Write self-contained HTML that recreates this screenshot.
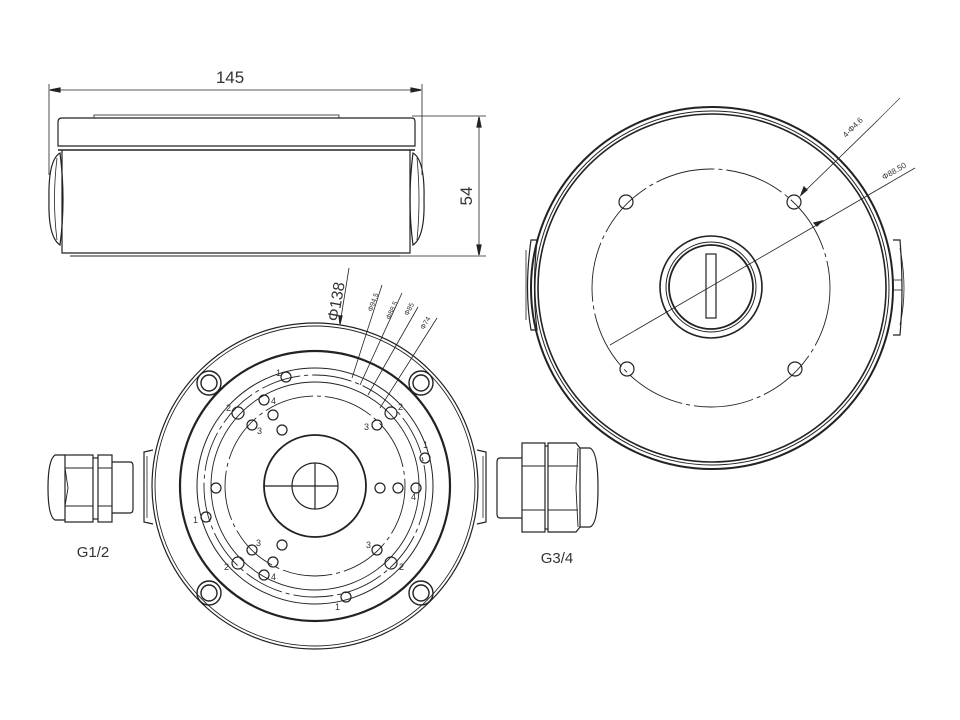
<!DOCTYPE html>
<html><head><meta charset="utf-8"><style>
html,body{margin:0;padding:0;background:#fff;}
svg{display:block;}
text{font-family:"Liberation Sans",sans-serif;fill:#333;}
</style></head><body>
<svg width="960" height="720" viewBox="0 0 960 720" xmlns="http://www.w3.org/2000/svg" fill="none" stroke="#222" stroke-width="1.2">
<!-- TOP SIDE VIEW -->
<line x1="49" y1="84" x2="49" y2="175" stroke-width="0.8"/>
<line x1="422" y1="84" x2="422" y2="175" stroke-width="0.8"/>
<line x1="50" y1="90" x2="421" y2="90" stroke-width="0.8"/>
<path d="M50 90 l10 -2 v4z M421 90 l-10 -2 v4z" fill="#222"/>
<text x="230" y="83" font-size="17" stroke="none" text-anchor="middle">145</text>
<rect x="94" y="115" width="245" height="3" stroke-width="0.8"/>
<path d="M62 118 H412 Q415 118 415 122 V146 H58 V122 Q58 118 62 118Z"/>
<line x1="58" y1="150" x2="415" y2="150" stroke-width="1.4"/>
<path d="M62 150 V253 H410 V150"/>
<line x1="70" y1="256" x2="400" y2="256" stroke-width="1"/>
<path d="M60 153 Q48 160 49 200 Q48 237 60 245 Q66 200 60 153Z"/>
<path d="M57 158 Q52 200 57 240" stroke-width="0.8"/>
<path d="M413 153 Q425 160 424 200 Q425 237 413 245 Q407 200 413 153Z"/>
<path d="M417 158 Q421 200 417 240" stroke-width="0.8"/>
<line x1="412" y1="116" x2="486" y2="116" stroke-width="0.8"/>
<line x1="400" y1="256" x2="486" y2="256" stroke-width="0.8"/>
<line x1="479" y1="117" x2="479" y2="255" stroke-width="0.8"/>
<path d="M479 117 l-2 10 h4z M479 255 l-2 -10 h4z" fill="#222"/>
<text x="0" y="0" font-size="17" stroke="none" transform="translate(472,196) rotate(-90)" text-anchor="middle">54</text>

<!-- RIGHT TOP VIEW -->
<circle cx="712" cy="288" r="181" stroke-width="2"/>
<circle cx="712" cy="288" r="177" stroke-width="1"/>
<circle cx="712" cy="288" r="174" stroke-width="1.6"/>
<circle cx="711" cy="288" r="119" stroke-width="0.9" stroke-dasharray="60 4 4 4"/>
<circle cx="711" cy="287" r="51" stroke-width="1.6"/>
<circle cx="711" cy="287" r="45" stroke-width="1"/>
<circle cx="711" cy="287" r="42" stroke-width="1.8"/>
<rect x="706" y="254" width="10" height="64" stroke-width="1.2"/>
<circle cx="626" cy="202" r="7"/><circle cx="794" cy="202" r="7"/>
<circle cx="627" cy="369" r="7"/><circle cx="795" cy="369" r="7"/>
<line x1="610" y1="345" x2="915" y2="168" stroke-width="0.8"/>
<path d="M822 221 l-8 2 l3 3z" fill="#222"/>
<line x1="803" y1="193" x2="878" y2="120" stroke-width="0.8"/>
<line x1="878" y1="120" x2="900" y2="98" stroke-width="0.6"/>
<path d="M801 195 l3 -8 l3 3z" fill="#222"/>
<text font-size="8" stroke="none" transform="translate(846,138) rotate(-45)">4-Φ4.6</text>
<text font-size="8" stroke="none" transform="translate(884,180) rotate(-30)">Φ88.50</text>
<path d="M531 240 Q524 290 531 330 L537 330 Q532 290 537 240Z"/>
<path d="M526 250 V320" stroke-width="0.8"/>
<path d="M893 240 L900 240 Q904 290 900 335 L893 335" />
<path d="M900 248 Q908 290 900 325" stroke-width="0.8"/>
<line x1="893" y1="280" x2="902" y2="280" stroke-width="0.8"/>
<line x1="893" y1="290" x2="902" y2="290" stroke-width="0.8"/>

<!-- BOTTOM LEFT VIEW -->
<circle cx="315" cy="486" r="163" stroke-width="1.2"/>
<circle cx="315" cy="486" r="160" stroke-width="0.9"/>
<circle cx="315" cy="486" r="135" stroke-width="2.2"/>
<circle cx="315" cy="486" r="118" stroke-width="1"/>
<circle cx="315" cy="486" r="111" stroke-width="0.9" stroke-dasharray="40 4 4 4"/>
<circle cx="315" cy="486" r="104" stroke-width="0.9"/>
<circle cx="315" cy="486" r="90" stroke-width="0.9" stroke-dasharray="50 4 4 4"/>
<circle cx="315" cy="486" r="51" stroke-width="1.8"/>
<circle cx="315" cy="486" r="23" stroke-width="1.2"/>
<line x1="264" y1="486" x2="338" y2="486"/>
<line x1="315" y1="463" x2="315" y2="509"/>
<g stroke-width="1.4">
<circle cx="209" cy="383" r="12"/><circle cx="209" cy="383" r="8"/>
<circle cx="421" cy="383" r="12"/><circle cx="421" cy="383" r="8"/>
<circle cx="209" cy="593" r="12"/><circle cx="209" cy="593" r="8"/>
<circle cx="421" cy="593" r="12"/><circle cx="421" cy="593" r="8"/>
</g>
<g stroke-width="1.2">
<circle cx="286" cy="377" r="5"/><circle cx="264" cy="400" r="5"/><circle cx="238" cy="413" r="6"/><circle cx="273" cy="415" r="5"/>
<circle cx="252" cy="425" r="5"/><circle cx="282" cy="430" r="5"/><circle cx="391" cy="413" r="6"/><circle cx="377" cy="425" r="5"/>
<circle cx="425" cy="458" r="5"/><circle cx="216" cy="488" r="5"/><circle cx="380" cy="488" r="5"/><circle cx="398" cy="488" r="5"/>
<circle cx="416" cy="488" r="5"/><circle cx="206" cy="517" r="5"/><circle cx="252" cy="550" r="5"/><circle cx="282" cy="545" r="5"/>
<circle cx="238" cy="563" r="6"/><circle cx="273" cy="562" r="5"/><circle cx="264" cy="575" r="5"/><circle cx="377" cy="550" r="5"/>
<circle cx="391" cy="563" r="6"/><circle cx="346" cy="597" r="5"/>
</g>
<g font-size="9" stroke="none">
<text x="276" y="376">1</text><text x="271" y="404">4</text><text x="226" y="411">2</text><text x="257" y="434">3</text>
<text x="398" y="410">2</text><text x="364" y="430">3</text><text x="423" y="448">1</text><text x="411" y="500">4</text>
<text x="193" y="523">1</text><text x="256" y="546">3</text><text x="224" y="570">2</text><text x="271" y="580">4</text>
<text x="366" y="548">3</text><text x="399" y="570">2</text><text x="335" y="610">1</text>
</g>
<!-- leaders -->
<g stroke-width="0.8">
<line x1="349" y1="268" x2="340" y2="324"/>
<line x1="382" y1="285" x2="352" y2="378"/>
<line x1="402" y1="293" x2="360" y2="385"/>
<line x1="418" y1="307" x2="368" y2="395"/>
<line x1="437" y1="318" x2="380" y2="408"/>
</g>
<path d="M340 324 l-1 -8 l3 0z" fill="#222"/>
<text font-size="16" stroke="none" transform="translate(338,322) rotate(-80)">Φ138</text>
<g font-size="7" stroke="none">
<text transform="translate(372,312) rotate(-70)">Φ94.5</text>
<text transform="translate(390,320) rotate(-66)">Φ88.5</text>
<text transform="translate(408,316) rotate(-62)">Φ85</text>
<text transform="translate(424,330) rotate(-60)">Φ74</text>
</g>
<!-- side knockouts left view -->
<path d="M153 450 L144 452 V522 L153 524"/>
<path d="M147 456 V518" stroke-width="0.8"/>
<path d="M477 450 L486 452 V522 L477 524"/>
<path d="M483 456 V518" stroke-width="0.8"/>

<!-- GLAND G1/2 -->
<path d="M65 455 H55 Q48 460 48 488 Q48 516 55 520 H65"/>
<rect x="65" y="455" width="28" height="67"/>
<path d="M65 468 H93 M65 506 H93 M65 468 L68 488 L65 506" stroke-width="0.9"/>
<rect x="98" y="455" width="14" height="67"/>
<line x1="93" y1="458" x2="98" y2="458"/><line x1="93" y1="519" x2="98" y2="519"/>
<path d="M98 468 H112 M98 506 H112" stroke-width="0.9"/>
<path d="M112 462 H130 Q133 462 133 466 V509 Q133 513 130 513 H112"/>
<text x="93" y="557" font-size="15" stroke="none" text-anchor="middle">G1/2</text>

<!-- GLAND G3/4 -->
<path d="M522 458 H500 Q497 458 497 462 V514 Q497 518 500 518 H522"/>
<rect x="522" y="443" width="23" height="89"/>
<path d="M522 466 H545 M522 510 H545" stroke-width="0.9"/>
<line x1="545" y1="446" x2="548" y2="446"/><line x1="545" y1="529" x2="548" y2="529"/>
<path d="M548 443 H576 L580 448 V527 L576 532 H548Z"/>
<path d="M548 466 H578 M548 510 H578 M578 448 L576 488 L578 527" stroke-width="0.9"/>
<path d="M580 448 H590 Q598 452 598 488 Q598 524 590 527 H580"/>
<text x="557" y="563" font-size="15" stroke="none" text-anchor="middle">G3/4</text>
</svg>
</body></html>
